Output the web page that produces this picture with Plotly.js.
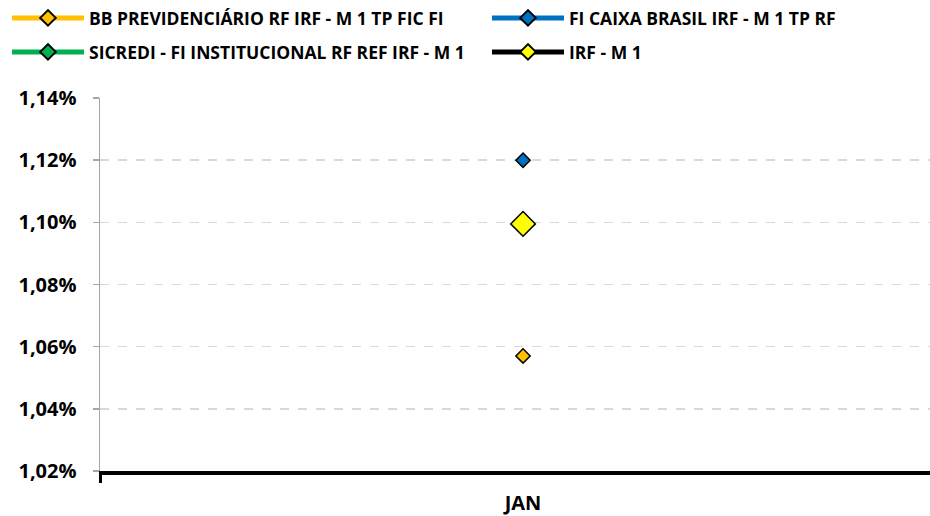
<!DOCTYPE html>
<html>
<head>
<meta charset="utf-8">
<script src="https://cdn.plot.ly/plotly-3.0.1.min.js"></script>
<style>html,body{margin:0;padding:0;background:#fff;}#chart{width:930px;height:516px;}</style>
</head>
<body>
<div id="chart"></div>
<script>
const categories = ["JAN"];
const seriesNames = [
  "BB PREVIDENCIÁRIO RF IRF - M 1 TP FIC FI",
  "FI CAIXA BRASIL IRF - M 1 TP RF",
  "SICREDI - FI INSTITUCIONAL RF REF IRF - M 1",
  "IRF - M 1"
];
const bbValues = [1.057];
const caixaValues = [1.120];
const sicrediValues = [null];
const irfm1Values = [1.0995];
const yTicks = [1.02, 1.04, 1.06, 1.08, 1.10, 1.12, 1.14];
const yTickText = ["1,02%", "1,04%", "1,06%", "1,08%", "1,10%", "1,12%", "1,14%"];

const font = "'Open Sans', Lato, sans-serif";
function tr(name, y, lineColor, markerColor, size, legend) {
  return {
    type: 'scatter', mode: 'lines+markers', name: name,
    x: categories, y: y, legend: legend,
    line: {color: lineColor, width: 6},
    marker: {symbol: 'diamond', color: markerColor, size: size, line: {color: '#000', width: 1.5}},
    hoverinfo: 'y'
  };
}
const data = [
  tr(seriesNames[0], bbValues, '#FFC000', '#FFC000', 11, 'legend'),
  tr(seriesNames[1], caixaValues, '#0070C0', '#0070C0', 11, 'legend2'),
  tr(seriesNames[2], sicrediValues, '#00B050', '#00B050', 11, 'legend3'),
  tr(seriesNames[3], irfm1Values, '#000000', '#FFFF00', 19, 'legend4')
];
const legendCommon = {
  orientation: 'h', xref: 'container', yref: 'container', xanchor: 'left', yanchor: 'middle',
  itemwidth: 72, itemsizing: 'constant',
  font: {family: font, size: 17.5, color: '#000', weight: 'bold'},
  bgcolor: 'rgba(0,0,0,0)'
};
function leg(xpx, ypx) {
  return Object.assign({}, legendCommon, {x: xpx / 930, y: 1 - ypx / 516});
}
const layout = {
  width: 930, height: 516,
  margin: {l: 100, r: 0, t: 98, b: 45},
  paper_bgcolor: '#fff', plot_bgcolor: '#fff',
  showlegend: true,
  legend: leg(7, 18),
  legend2: leg(487, 18),
  legend3: leg(7, 52),
  legend4: leg(487, 52),
  xaxis: {
    type: 'category', range: [-0.5, 0.481],
    showline: true, linecolor: '#000', linewidth: 4,
    ticks: 'outside', tickson: 'boundaries', ticklen: 8, tickwidth: 3, tickcolor: '#000',
    showgrid: false, zeroline: false,
    tickfont: {family: font, size: 20, color: '#000', weight: 'bold'},
    ticklabelstandoff: 11
  },
  yaxis: {
    range: [1.02, 1.14], tickvals: yTicks, ticktext: yTickText,
    showline: true, linecolor: '#A6A6A6', linewidth: 1.5,
    ticks: 'outside', ticklen: 6, tickwidth: 1.5, tickcolor: '#A6A6A6',
    showgrid: true, gridcolor: '#D9D9D9', gridwidth: 1.5, griddash: 'dash',
    zeroline: false,
    tickfont: {family: font, size: 20, color: '#000', weight: 'bold'},
    ticklabelstandoff: 12
  }
};
Plotly.newPlot('chart', data, layout, {displayModeBar: false, staticPlot: true});
</script>
</body>
</html>
